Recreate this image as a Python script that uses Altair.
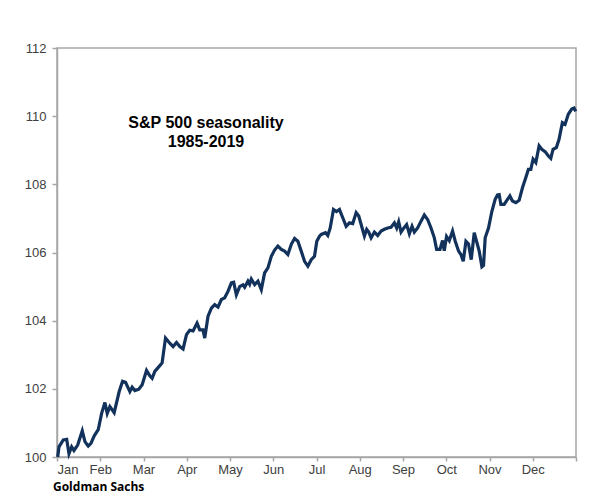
"""S&P 500 seasonality (1985-2019) line chart."""

import pandas as pd
import altair as alt

# position along the year in months (0 = 1 Jan)
month_pos = [
    0.016, 0.046, 0.145, 0.224, 0.277, 0.339, 0.392, 0.478, 0.584, 0.646,
    0.722, 0.785, 0.861, 0.953, 1.032, 1.108, 1.161, 1.223, 1.322, 1.438,
    1.516, 1.585, 1.685, 1.738, 1.800, 1.892, 1.969, 2.070, 2.146, 2.199,
    2.262, 2.377, 2.430, 2.509, 2.608, 2.684, 2.763, 2.839, 2.915, 2.994,
    3.069, 3.146, 3.238, 3.300, 3.376, 3.416, 3.492, 3.570, 3.646, 3.723,
    3.801, 3.877, 3.953, 4.032, 4.085, 4.147, 4.223, 4.300, 4.339, 4.415,
    4.454, 4.493, 4.570, 4.646, 4.724, 4.800, 4.877, 4.955, 5.031, 5.107,
    5.186, 5.262, 5.338, 5.417, 5.493, 5.569, 5.647, 5.724, 5.800, 5.878,
    5.954, 6.007, 6.070, 6.109, 6.208, 6.261, 6.317, 6.393, 6.462, 6.531,
    6.607, 6.686, 6.762, 6.838, 6.917, 6.977, 7.055, 7.108, 7.161, 7.208,
    7.263, 7.339, 7.415, 7.494, 7.570, 7.646, 7.724, 7.801, 7.854, 7.900,
    7.955, 8.008, 8.084, 8.147, 8.209, 8.262, 8.338, 8.417, 8.493, 8.569,
    8.648, 8.724, 8.777, 8.855, 8.915, 8.954, 9.007, 9.070, 9.146, 9.208,
    9.285, 9.340, 9.393, 9.455, 9.515, 9.578, 9.647, 9.700, 9.762, 9.824,
    9.862, 9.900, 9.977, 10.055, 10.131, 10.185, 10.224, 10.263, 10.339, 10.416,
    10.471, 10.531, 10.609, 10.685, 10.762, 10.840, 10.900, 10.955, 11.008, 11.071,
    11.147, 11.209, 11.285, 11.362, 11.417, 11.470, 11.546, 11.608, 11.685, 11.747,
    11.823, 11.901, 11.955, 11.993,
]

# seasonal index level (start of year = 100)
index_level = [
    100.00, 100.30, 100.50, 100.52, 100.10, 100.30, 100.19, 100.35, 100.77, 100.45,
    100.32, 100.40, 100.62, 100.80, 101.28, 101.60, 101.28, 101.48, 101.30, 101.92,
    102.22, 102.19, 101.92, 102.05, 101.95, 101.99, 102.12, 102.54, 102.38, 102.31,
    102.51, 102.68, 102.76, 103.49, 103.34, 103.24, 103.36, 103.24, 103.17, 103.59,
    103.72, 103.70, 103.93, 103.73, 103.73, 103.49, 104.13, 104.37, 104.47, 104.40,
    104.62, 104.67, 104.86, 105.11, 105.13, 104.76, 105.00, 105.05, 104.98, 105.16,
    105.07, 105.22, 105.06, 105.16, 104.91, 105.40, 105.55, 105.89, 106.07, 106.19,
    106.09, 106.04, 105.94, 106.24, 106.41, 106.33, 106.04, 105.74, 105.60, 105.79,
    105.89, 106.33, 106.48, 106.53, 106.58, 106.50, 106.72, 107.26, 107.20, 107.26,
    107.02, 106.77, 106.87, 106.85, 107.17, 107.07, 106.72, 106.48, 106.68, 106.60,
    106.43, 106.60, 106.50, 106.63, 106.68, 106.72, 106.74, 106.87, 106.72, 106.90,
    106.60, 106.70, 106.82, 106.55, 106.77, 106.60, 106.72, 106.92, 107.10, 106.97,
    106.72, 106.43, 106.09, 106.09, 106.35, 106.05, 106.47, 106.35, 106.63, 106.33,
    106.04, 105.94, 105.74, 106.33, 106.25, 105.79, 106.58, 106.33, 106.04, 105.58,
    105.62, 106.43, 106.72, 107.21, 107.56, 107.69, 107.70, 107.41, 107.41, 107.56,
    107.66, 107.51, 107.46, 107.53, 107.90, 108.20, 108.44, 108.44, 108.74, 108.64,
    109.13, 109.03, 108.96, 108.83, 108.76, 109.03, 109.08, 109.32, 109.81, 109.76,
    110.06, 110.21, 110.24, 110.14,
]

month_labels = ['Jan', 'Feb', 'Mar', 'Apr', 'May', 'Jun',
                'Jul', 'Aug', 'Sep', 'Oct', 'Nov', 'Dec']
y_ticks = [100, 102, 104, 106, 108, 110, 112]

df = pd.DataFrame({'month': month_pos, 'level': index_level})

label_expr = 'split("' + ','.join(month_labels) + '", ",")[datum.value]'

line = alt.Chart(df).mark_line(color='#12325c', strokeWidth=3.2).encode(
    x=alt.X('month:Q',
            scale=alt.Scale(domain=[0, 12], nice=False),
            axis=alt.Axis(title=None, values=list(range(13)),
                          labelExpr=f'datum.value < 12 ? {label_expr} : ""',
                          labelPadding=2, tickSize=4)),
    y=alt.Y('level:Q',
            scale=alt.Scale(domain=[100, 112], nice=False, zero=False),
            axis=alt.Axis(title=None, values=y_ticks, labelPadding=6,
                          tickSize=5))
)

title = alt.Chart(pd.DataFrame({'t': ['S&P 500 seasonality\n1985-2019']})).mark_text(
    font='Liberation Sans', fontSize=16, fontWeight='bold', color='#000000',
    align='center', baseline='middle', lineBreak='\n', lineHeight=19
).encode(x=alt.value(149), y=alt.value(75), text='t:N')

source = alt.Chart(pd.DataFrame({'t': ['Goldman Sachs']})).mark_text(
    font='Open Sans', fontSize=12, fontWeight='bold', color='#000000',
    align='left', baseline='alphabetic'
).encode(x=alt.value(-4), y=alt.value(443), text='t:N')

chart = (line + title + source).properties(
    width=519,
    height=409,
    autosize=alt.AutoSizeParams(type='none'),
    padding={'left': 49, 'top': 40, 'right': 10, 'bottom': 38},
    background='white'
).configure_axis(
    grid=False,
    domainColor='#a6a6a6',
    domainWidth=1.5,
    tickColor='#a6a6a6',
    tickWidth=1.5,
    labelFont='Liberation Sans',
    labelFontSize=13,
    labelColor='#404040'
).configure_view(
    stroke='#a6a6a6',
    strokeWidth=1.5
)

chart.save("out.html", embed_options={"renderer": "svg", "actions": False})
